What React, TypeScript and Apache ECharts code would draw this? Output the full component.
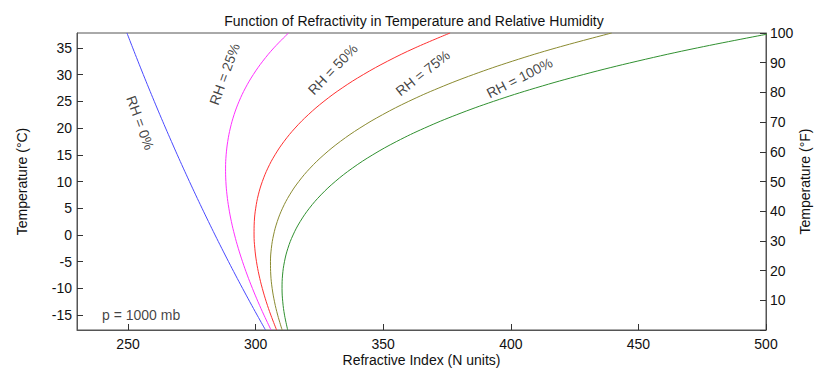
import React, { useEffect, useRef } from "react";
import * as echarts from "echarts";

// Temperature (°C), from 0 °F to 100 °F
const temps = [-17.78, -15, -12.5, -10, -7.5, -5, -2.5, 0, 2.5, 5, 7.5, 10, 12.5, 15, 17.5, 20, 22.5, 25, 27.5, 30, 32.5, 35, 37.78];

// Refractive index N for each relative humidity
const rh0 = [303.87, 300.6, 297.72, 294.89, 292.11, 289.39, 286.72, 284.09, 281.52, 278.99, 276.5, 274.06, 271.66, 269.3, 266.99, 264.71, 262.47, 260.27, 258.11, 255.98, 253.89, 251.83, 249.57];
const rh25 = [306.04, 303.28, 300.94, 298.75, 296.72, 294.87, 293.2, 291.74, 290.5, 289.51, 288.78, 288.34, 288.22, 288.45, 289.07, 290.09, 291.56, 293.52, 296.01, 299.09, 302.79, 307.16, 312.89];
const rh50 = [308.22, 305.97, 304.17, 302.62, 301.33, 300.34, 299.68, 299.38, 299.48, 300.03, 301.05, 302.63, 304.79, 307.61, 311.14, 315.46, 320.65, 326.77, 333.92, 342.2, 351.69, 362.5, 376.21];
const rh75 = [310.39, 308.65, 307.4, 306.48, 305.94, 305.82, 306.16, 307.03, 308.47, 310.54, 313.33, 316.91, 321.35, 326.76, 333.22, 340.84, 349.74, 360.02, 371.83, 385.31, 400.59, 417.84, 439.53];
const rh100 = [312.57, 311.33, 310.63, 310.35, 310.55, 311.3, 312.64, 314.67, 317.45, 321.06, 325.61, 331.19, 337.92, 345.91, 355.3, 366.22, 378.83, 393.28, 409.74, 428.42, 449.5, 473.18, 502.84];

const seriesNames = ["RH = 0%", "RH = 25%", "RH = 50%", "RH = 75%", "RH = 100%"];
const seriesColors = ["#4a4aff", "#ff30ff", "#ff3030", "#8a8a30", "#309030"];

// Curve label anchors (N, °C) and rotation (degrees)
const labelN = [254.8, 287.8, 330.2, 365.5, 403.4];
const labelT = [21.0, 30.1, 31.0, 30.3, 29.4];
const labelRot = [-70, 70, 46, 38, 27];

const celsiusTicks = [-15, -10, -5, 0, 5, 10, 15, 20, 25, 30, 35];
const nTicks = [250, 300, 350, 400, 450, 500];
const noteText = "p = 1000 mb";

const FONT = "'Liberation Sans', Arial, Helvetica, sans-serif";
const TXT = "#111";

export default function App() {
  const ref = useRef<HTMLDivElement>(null);
  useEffect(() => {
    if (!ref.current) return;
    const chart = echarts.init(ref.current, undefined, { renderer: "svg" });
    const curves = [rh0, rh25, rh50, rh75, rh100];
    const lineSeries = curves.map((c, i) => ({
      type: "line",
      name: seriesNames[i],
      data: c.map((n, j) => [n, temps[j]]),
      showSymbol: false,
      smooth: 0.4,
      lineStyle: { color: seriesColors[i], width: 1 },
      itemStyle: { color: seriesColors[i] },
      yAxisIndex: 0,
      silent: true,
    }));
    const labelSeries = {
      type: "scatter",
      yAxisIndex: 0,
      symbolSize: 0,
      silent: true,
      data: seriesNames.map((nm, i) => ({
        name: nm,
        value: [labelN[i], labelT[i]],
        label: {
          show: true,
          position: "inside",
          rotate: labelRot[i],
          formatter: nm,
          color: TXT,
          textBorderWidth: 0,
          fontSize: 14,
          fontFamily: FONT,
        },
      })),
    };
    const noteSeries = {
      type: "scatter",
      yAxisIndex: 0,
      symbolSize: 0,
      silent: true,
      data: [
        {
          name: noteText,
          value: [239.8, -15],
          label: {
            show: true,
            position: "right",
            distance: 0,
            formatter: noteText,
            color: TXT,
            textBorderWidth: 0,
            fontSize: 14,
            fontFamily: FONT,
          },
        },
      ],
    };
    const axisLine = { show: true, onZero: false, lineStyle: { color: "#555", width: 1 } };
    chart.setOption({
      animation: false,
      textStyle: { fontFamily: FONT },
      title: {
        text: "Function of Refractivity in Temperature and Relative Humidity",
        left: 409,
        textAlign: "center",
        top: 9,
        textStyle: { fontSize: 14, fontWeight: "normal", color: TXT, fontFamily: FONT },
      },
      grid: {
        left: 77,
        right: 48,
        top: 33,
        bottom: 43,
        show: true,
        borderColor: "#555",
        borderWidth: 1,
        containLabel: false,
        outerBoundsMode: "none",
      },
      xAxis: {
        type: "value",
        min: 230,
        max: 500,
        interval: 50,
        name: "Refractive Index (N units)",
        nameLocation: "middle",
        nameGap: 23,
        nameMoveOverlap: false,
        nameTextStyle: { fontSize: 14, color: TXT, fontFamily: FONT },
        axisLine,
        axisTick: { show: true, inside: true, length: 6, lineStyle: { color: "#333" }, customValues: nTicks },
        axisLabel: { color: TXT, fontSize: 14, margin: 7, customValues: nTicks, fontFamily: FONT },
        splitLine: { show: false },
      },
      yAxis: [
        {
          type: "value",
          min: -160 / 9,
          max: 340 / 9,
          position: "left",
          name: "Temperature (°C)",
          nameLocation: "middle",
          nameRotate: 90,
          nameGap: 48,
          nameMoveOverlap: false,
          nameTextStyle: { fontSize: 14, color: TXT, fontFamily: FONT },
          axisLine,
          axisTick: { show: true, inside: true, length: 6, lineStyle: { color: "#333" }, customValues: celsiusTicks },
          axisLabel: { color: TXT, fontSize: 14, margin: 5, customValues: celsiusTicks, fontFamily: FONT },
          splitLine: { show: false },
        },
        {
          type: "value",
          min: 0,
          max: 100,
          interval: 10,
          position: "right",
          name: "Temperature (°F)",
          nameLocation: "middle",
          nameRotate: 90,
          nameGap: 32,
          nameMoveOverlap: false,
          nameTextStyle: { fontSize: 14, color: TXT, fontFamily: FONT },
          axisLine,
          axisTick: { show: true, inside: true, length: 6, lineStyle: { color: "#333" } },
          axisLabel: {
            color: TXT,
            fontSize: 14,
            margin: 4,
            fontFamily: FONT,
            formatter: (v: number) => (v === 0 ? "" : String(v)),
          },
          splitLine: { show: false },
        },
      ],
      series: [...lineSeries, labelSeries, noteSeries],
    });
    return () => chart.dispose();
  }, []);
  return (
    <div
      ref={ref}
      style={{ position: "absolute", left: 0, top: 0, width: 814, height: 373, background: "#fff" }}
    />
  );
}
